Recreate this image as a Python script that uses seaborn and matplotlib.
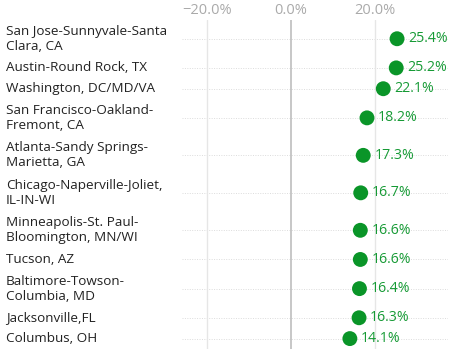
import matplotlib
matplotlib.use("Agg")
import matplotlib.pyplot as plt
import matplotlib.transforms as mtransforms
import seaborn as sns
import numpy as np
import pandas as pd

metros = [
    "San Jose-Sunnyvale-Santa\nClara, CA",
    "Austin-Round Rock, TX",
    "Washington, DC/MD/VA",
    "San Francisco-Oakland-\nFremont, CA",
    "Atlanta-Sandy Springs-\nMarietta, GA",
    "Chicago-Naperville-Joliet,\nIL-IN-WI",
    "Minneapolis-St. Paul-\nBloomington, MN/WI",
    "Tucson, AZ",
    "Baltimore-Towson-\nColumbia, MD",
    "Jacksonville,FL",
    "Columbus, OH",
]
growth = [25.4, 25.2, 22.1, 18.2, 17.3, 16.7, 16.6, 16.6, 16.4, 16.3, 14.1]
xticks = [-20, 0, 20]
xtick_labels = ["\u221220.0%", "0.0%", "20.0%"]

# row heights depend on number of label lines
lines = np.array([m.count("\n") + 1 for m in metros])
heights = 1 + 0.8 * (lines - 1)
centers = np.cumsum(heights) - heights / 2
total = heights.sum()

df = pd.DataFrame({"metro": metros, "growth": growth, "pos": centers})

sns.set_theme(style="white")
plt.rcParams["font.family"] = ["Open Sans", "DejaVu Sans"]

fig = plt.figure(figsize=(4.64, 3.49), dpi=100)
ax = fig.add_axes([182 / 464, 0, 266 / 464, 1 - 20 / 349])

green = "#0a9528"
for t in xticks:
    ax.axvline(t, color="#bdbdbd" if t == 0 else "#e6e6e6", lw=1.2 if t == 0 else 1.0, zorder=1)
for y in centers:
    ax.axhline(y, color="#dcdcdc", lw=0.7, ls=(0, (1, 1.5)), zorder=0)

sns.scatterplot(data=df, x="growth", y="pos", color=green, s=115, edgecolor="none", ax=ax, zorder=3, legend=False)

for g, y in zip(growth, centers):
    ax.annotate(f"{g:.1f}%", (g, y), xytext=(8, 0), textcoords="offset points",
                va="center", ha="left", color="#169a35", fontsize=10.2)

trans = mtransforms.blended_transform_factory(fig.transFigure, ax.transData)
for m, y in zip(metros, centers):
    ax.text(6 / 464, y, m, transform=trans, ha="left", va="center",
            fontsize=9.7, color="#222222", linespacing=1.22)

ax.set_xlim(-26.1, 37.6)
ax.set_ylim(total, 0)
ax.set_xticks(xticks)
ax.set_xticklabels(xtick_labels)
ax.xaxis.tick_top()
ax.tick_params(axis="x", length=0, pad=1.5, labelsize=10.5, labelcolor="#aaaaaa")
ax.set_yticks([])
ax.set_xlabel("")
ax.set_ylabel("")
for s in ax.spines.values():
    s.set_visible(False)
ax.patch.set_alpha(0)

fig.savefig("out.png", dpi=100)
